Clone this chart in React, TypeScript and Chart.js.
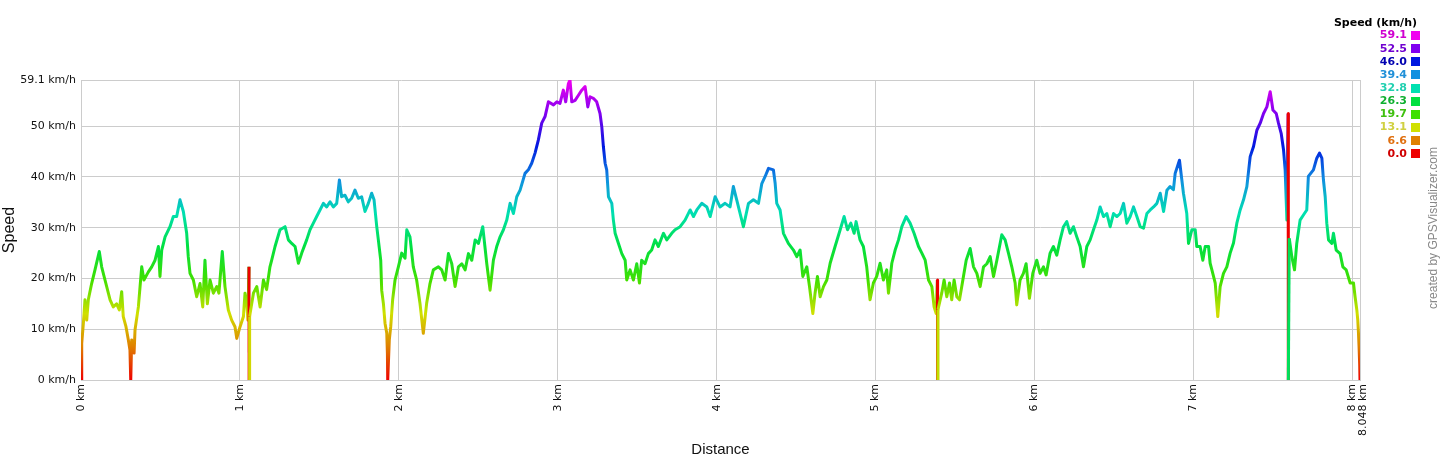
import React, { useEffect, useRef } from 'react';
import { Chart, registerables } from 'chart.js';

Chart.register(...registerables);

// Distance along the track (km)
const distanceKm = [
  0.003, 0.004, 0.005, 0.015, 0.025, 0.036, 0.046, 0.067, 0.088, 0.115,
  0.130, 0.151, 0.183, 0.203, 0.224, 0.241, 0.256, 0.266, 0.283, 0.298,
  0.308, 0.313, 0.319, 0.334, 0.340, 0.361, 0.382, 0.396, 0.424, 0.445,
  0.466, 0.487, 0.497, 0.508, 0.529, 0.560, 0.581, 0.602, 0.623, 0.644,
  0.665, 0.675, 0.686, 0.707, 0.728, 0.749, 0.766, 0.780, 0.795, 0.812,
  0.833, 0.854, 0.868, 0.889, 0.906, 0.927, 0.948, 0.969, 0.980, 1.001,
  1.022, 1.032, 1.044, 1.050, 1.057, 1.058, 1.061, 1.085, 1.106, 1.127,
  1.148, 1.168, 1.189, 1.200, 1.221, 1.252, 1.284, 1.305, 1.326, 1.347,
  1.368, 1.389, 1.420, 1.441, 1.462, 1.483, 1.504, 1.525, 1.546, 1.567,
  1.588, 1.609, 1.626, 1.640, 1.661, 1.682, 1.703, 1.724, 1.745, 1.766,
  1.787, 1.808, 1.829, 1.844, 1.861, 1.871, 1.886, 1.892, 1.903, 1.913,
  1.924, 1.928, 1.930, 1.940, 1.949, 1.961, 1.976, 1.997, 2.018, 2.039,
  2.050, 2.070, 2.091, 2.112, 2.133, 2.154, 2.175, 2.196, 2.217, 2.249,
  2.270, 2.291, 2.312, 2.333, 2.354, 2.375, 2.396, 2.417, 2.438, 2.459,
  2.480, 2.501, 2.528, 2.553, 2.574, 2.595, 2.616, 2.637, 2.658, 2.679,
  2.700, 2.721, 2.742, 2.763, 2.794, 2.815, 2.836, 2.857, 2.878, 2.899,
  2.920, 2.941, 2.973, 2.994, 3.014, 3.035, 3.050, 3.067, 3.077, 3.088,
  3.109, 3.130, 3.151, 3.172, 3.189, 3.203, 3.224, 3.245, 3.266, 3.277,
  3.287, 3.298, 3.308, 3.319, 3.340, 3.350, 3.361, 3.382, 3.403, 3.424,
  3.434, 3.455, 3.476, 3.497, 3.514, 3.528, 3.549, 3.570, 3.591, 3.612,
  3.633, 3.665, 3.686, 3.717, 3.738, 3.770, 3.801, 3.833, 3.854, 3.875,
  3.906, 3.938, 3.959, 3.990, 4.021, 4.053, 4.084, 4.105, 4.126, 4.168,
  4.200, 4.231, 4.263, 4.284, 4.305, 4.326, 4.357, 4.368, 4.378, 4.399,
  4.420, 4.451, 4.483, 4.504, 4.525, 4.542, 4.567, 4.584, 4.605, 4.619,
  4.634, 4.651, 4.672, 4.693, 4.714, 4.745, 4.777, 4.802, 4.823, 4.844,
  4.865, 4.877, 4.902, 4.923, 4.944, 4.965, 4.986, 5.007, 5.028, 5.049,
  5.070, 5.081, 5.102, 5.123, 5.144, 5.165, 5.192, 5.217, 5.242, 5.270,
  5.291, 5.312, 5.333, 5.354, 5.368, 5.381, 5.389, 5.390, 5.392, 5.416,
  5.431, 5.448, 5.465, 5.479, 5.494, 5.511, 5.528, 5.549, 5.570, 5.595,
  5.616, 5.637, 5.658, 5.679, 5.700, 5.721, 5.742, 5.763, 5.794, 5.815,
  5.836, 5.857, 5.878, 5.888, 5.909, 5.930, 5.947, 5.968, 5.989, 6.014,
  6.035, 6.056, 6.073, 6.098, 6.119, 6.140, 6.161, 6.182, 6.203, 6.224,
  6.245, 6.266, 6.287, 6.308, 6.329, 6.350, 6.371, 6.392, 6.413, 6.434,
  6.455, 6.476, 6.497, 6.518, 6.539, 6.560, 6.581, 6.602, 6.623, 6.644,
  6.665, 6.686, 6.707, 6.728, 6.749, 6.770, 6.791, 6.812, 6.833, 6.853,
  6.874, 6.885, 6.912, 6.927, 6.937, 6.958, 6.969, 6.990, 7.011, 7.021,
  7.042, 7.059, 7.074, 7.095, 7.105, 7.116, 7.137, 7.153, 7.168, 7.189,
  7.210, 7.231, 7.252, 7.273, 7.294, 7.315, 7.336, 7.357, 7.378, 7.399,
  7.420, 7.441, 7.462, 7.483, 7.500, 7.521, 7.535, 7.552, 7.567, 7.577,
  7.588, 7.596, 7.597, 7.603, 7.619, 7.636, 7.650, 7.671, 7.692, 7.713,
  7.723, 7.755, 7.776, 7.793, 7.808, 7.818, 7.829, 7.839, 7.850, 7.871,
  7.881, 7.898, 7.923, 7.940, 7.961, 7.986, 8.007, 8.017, 8.028, 8.034,
  8.038, 8.042, 8.046, 8.048,
];

// Speed at each point (km/h)
const speedKmh = [
  0, 3.5, 7.2, 11.2, 15.8, 11.8, 15.8, 19.0, 21.7, 25.3,
  22.3, 19.7, 15.8, 14.4, 15.0, 13.8, 17.4, 12.5, 10.5, 7.9,
  5.9, 0, 7.9, 5.3, 9.9, 14.4, 22.3, 19.7, 21.3, 22.3,
  23.6, 26.3, 20.4, 25.6, 28.2, 30.2, 32.2, 32.2, 35.5, 33.2,
  28.9, 24.3, 21.0, 19.7, 16.4, 19.0, 14.4, 23.6, 15.0, 19.7,
  17.1, 18.4, 17.1, 25.3, 18.4, 13.8, 11.8, 10.5, 8.2, 10.5,
  12.5, 17.1, 15.0, 11.8, 22.3, 0, 12.5, 17.1, 18.4, 14.4,
  19.7, 17.8, 22.3, 23.6, 26.3, 29.6, 30.2, 27.6, 26.9, 26.3,
  23.0, 25.0, 27.6, 29.6, 30.9, 32.2, 33.5, 34.8, 34.1, 35.1,
  34.1, 34.8, 39.4, 36.1, 36.4, 35.1, 35.8, 37.4, 35.8, 36.1,
  33.2, 34.8, 36.8, 35.5, 30.2, 27.6, 23.6, 17.7, 15.0, 11.2,
  9.2, 5.3, 0, 7.9, 10.5, 15.8, 19.7, 22.3, 25.0, 24.0,
  29.6, 28.2, 22.3, 19.7, 15.1, 9.2, 15.1, 19.0, 21.7, 22.3,
  21.7, 19.7, 24.9, 22.9, 18.4, 22.3, 22.9, 21.7, 24.9, 23.6,
  27.6, 26.9, 30.2, 23.0, 17.7, 23.6, 26.3, 28.2, 29.6, 31.5,
  34.8, 32.8, 36.1, 37.4, 40.7, 41.4, 42.7, 44.7, 47.3, 50.6,
  51.9, 54.8, 54.2, 54.8, 54.5, 57.1, 54.8, 58.4, 59.1, 54.8,
  55.1, 56.1, 57.1, 57.8, 53.8, 55.8, 55.5, 54.8, 52.5, 49.9,
  46.0, 42.7, 41.4, 36.1, 34.8, 31.5, 28.9, 26.9, 24.9, 23.6,
  19.7, 21.7, 19.7, 22.9, 19.1, 23.6, 22.9, 24.9, 25.6, 27.6,
  26.3, 28.9, 27.6, 28.9, 29.6, 30.2, 31.5, 33.5, 32.2, 33.5,
  34.8, 34.1, 32.2, 36.1, 34.1, 34.8, 34.1, 38.1, 35.5, 30.2,
  34.8, 35.5, 34.8, 38.7, 40.1, 41.7, 41.4, 38.7, 34.8, 33.5,
  28.9, 26.9, 25.6, 24.3, 25.6, 20.4, 22.3, 18.4, 13.1, 17.1,
  20.4, 16.4, 18.4, 19.7, 23.0, 26.3, 29.6, 32.2, 29.6, 30.9,
  28.9, 31.2, 27.6, 26.3, 22.3, 15.8, 19.1, 20.4, 23.0, 19.7,
  21.7, 17.1, 23.0, 25.6, 27.6, 30.2, 32.2, 30.9, 28.9, 26.3,
  25.0, 23.6, 19.7, 18.4, 14.4, 13.1, 19.7, 0, 13.8, 17.1,
  19.7, 16.4, 19.1, 15.8, 19.7, 16.4, 15.8, 19.7, 23.6, 25.9,
  22.3, 21.0, 18.4, 22.3, 22.9, 24.3, 20.4, 23.6, 28.6, 27.6,
  25.0, 22.3, 19.1, 14.8, 19.7, 21.0, 22.9, 16.1, 21.0, 23.6,
  21.0, 22.3, 20.7, 25.0, 26.3, 24.6, 27.6, 30.2, 31.2, 28.9,
  30.2, 28.2, 26.3, 22.3, 26.3, 27.6, 29.6, 31.5, 34.1, 32.2,
  32.8, 30.2, 32.8, 32.2, 32.8, 34.8, 30.9, 32.2, 34.1, 32.2,
  30.2, 29.9, 32.8, 33.5, 34.1, 34.8, 36.8, 33.2, 37.4, 38.1,
  37.5, 40.7, 43.3, 39.4, 36.8, 32.8, 26.9, 29.6, 29.6, 26.3,
  26.3, 23.6, 26.3, 26.3, 23.0, 21.7, 19.1, 12.5, 18.4, 21.0,
  22.3, 25.0, 27.0, 30.9, 33.5, 35.5, 38.1, 44.0, 46.0, 49.2,
  50.6, 52.5, 53.8, 56.8, 53.2, 52.5, 50.6, 48.6, 45.3, 41.4,
  31.5, 52.5, 0, 27.9, 24.3, 21.7, 26.9, 31.5, 32.5, 33.5,
  40.1, 41.4, 43.7, 44.7, 43.7, 39.4, 36.1, 30.9, 27.6, 26.9,
  28.9, 25.6, 24.9, 22.3, 21.7, 19.1, 19.1, 16.4, 13.8, 11.8,
  9.5, 6.6, 3.0, 0,
];

const xTickValues = [0, 1, 2, 3, 4, 5, 6, 7, 8, 8.048];
const yTickValues = [0, 10, 20, 30, 40, 50, 59.1];
const X_MAX = 8.048;
const Y_MAX = 59.1;

const legendTitle = 'Speed (km/h)';
const legendValues = [59.1, 52.5, 46.0, 39.4, 32.8, 26.3, 19.7, 13.1, 6.6, 0.0];
const legendColors = ['#f000f0', '#8000f0', '#0018e0', '#1090e0', '#00e0b0', '#00e040', '#40e000', '#d0e000', '#e08000', '#ee0000'];
const legendTextColors = ['#d000d0', '#7000d0', '#0000b0', '#2090d8', '#20d0b0', '#10b030', '#40c010', '#d0d040', '#e07010', '#d00000'];

const creditText = 'created by GPSVisualizer.com';
const xTitle = 'Distance';
const yTitle = 'Speed';

const TICK_FONT = "'DejaVu Sans', sans-serif";

function hexToRgb(h: string) {
  const n = parseInt(h.slice(1), 16);
  return [(n >> 16) & 255, (n >> 8) & 255, n & 255];
}

function speedColor(v: number): string {
  const vals = legendValues.slice().reverse();
  const cols = legendColors.slice().reverse();
  if (v <= vals[0]) return cols[0];
  for (let i = 1; i < vals.length; i++) {
    if (v <= vals[i]) {
      const t = (v - vals[i - 1]) / (vals[i] - vals[i - 1]);
      const a = hexToRgb(cols[i - 1]);
      const b = hexToRgb(cols[i]);
      const c = a.map((av, k) => Math.round(av + (b[k] - av) * t));
      return `rgb(${c[0]},${c[1]},${c[2]})`;
    }
  }
  return cols[cols.length - 1];
}

function getGradient(chart: any): any {
  const ys = chart.scales && chart.scales.y;
  if (!chart.chartArea || !ys) return legendColors[5];
  const y0 = ys.getPixelForValue(0);
  const y1 = ys.getPixelForValue(Y_MAX);
  const key = y0 + ':' + y1;
  if (!chart.$speedGrad || chart.$speedGrad.key !== key) {
    const g = chart.ctx.createLinearGradient(0, y0, 0, y1);
    const vals = legendValues.slice().reverse();
    const cols = legendColors.slice().reverse();
    vals.forEach((v, i) => g.addColorStop(Math.min(1, v / Y_MAX), cols[i]));
    chart.$speedGrad = { key, g };
  }
  return chart.$speedGrad.g;
}

// Near-vertical jumps (GPS glitches) are drawn in the solid colour of their end point
function segmentColor(ctx: any) {
  const a = ctx.p0.parsed;
  const b = ctx.p1.parsed;
  if (Math.abs(b.y - a.y) > 10 && Math.abs(b.x - a.x) < 0.0065) {
    return speedColor(b.y);
  }
  return getGradient(ctx.chart);
}

const decorPlugin = {
  id: 'decor',
  afterDraw(chart: any) {
    const ctx = chart.ctx;
    const area = chart.chartArea;
    const xs = chart.scales.x;
    ctx.save();
    ctx.fillStyle = '#111';
    ctx.font = "15px 'Liberation Sans', Arial, sans-serif";
    ctx.textAlign = 'center';
    ctx.textBaseline = 'middle';
    ctx.fillText(xTitle, (area.left + area.right) / 2, 450);
    ctx.save();
    ctx.font = "16px 'Liberation Sans', Arial, sans-serif";
    ctx.translate(10, (area.top + area.bottom) / 2);
    ctx.rotate(-Math.PI / 2);
    ctx.fillText(yTitle, 0, 0);
    ctx.restore();

    // last distance label, set slightly right of its grid line
    const last = xTickValues[xTickValues.length - 1];
    ctx.save();
    ctx.font = '11px ' + TICK_FONT;
    ctx.fillStyle = '#111';
    ctx.textAlign = 'right';
    ctx.textBaseline = 'middle';
    ctx.translate(xs.getPixelForValue(last) + 3.5, area.bottom + 4);
    ctx.rotate(-Math.PI / 2);
    ctx.fillText(last + ' km', 0, 0);
    ctx.restore();

    ctx.font = "bold 11px 'DejaVu Sans', sans-serif";
    ctx.textAlign = 'right';
    ctx.fillStyle = '#000';
    ctx.fillText(legendTitle, 1417, 23);
    legendValues.forEach((v, i) => {
      const cy = 35.5 + i * 13.15;
      ctx.fillStyle = legendTextColors[i];
      ctx.fillText(v.toFixed(1), 1407, cy);
      ctx.fillStyle = legendColors[i];
      ctx.fillRect(1411, Math.round(cy - 4.5), 9, 9);
    });

    ctx.font = "12px 'Liberation Sans', Arial, sans-serif";
    ctx.fillStyle = '#888';
    ctx.textAlign = 'center';
    ctx.translate(1434, 228);
    ctx.rotate(-Math.PI / 2);
    ctx.fillText(creditText, 0, 0);
    ctx.restore();
  },
};

export default function App() {
  const ref = useRef<HTMLCanvasElement>(null);
  useEffect(() => {
    const canvas = ref.current;
    if (!canvas) return;
    const points = distanceKm.map((d, i) => ({ x: d, y: speedKmh[i] }));
    const lastTick = xTickValues[xTickValues.length - 1];
    const chart = new Chart(canvas, {
      type: 'line',
      data: {
        datasets: [
          {
            data: points,
            borderWidth: 3,
            borderColor: '#00e040',
            pointRadius: 0,
            tension: 0,
            borderJoinStyle: 'round',
            segment: { borderColor: segmentColor },
          } as any,
        ],
      },
      options: {
        responsive: false,
        animation: false,
        layout: { padding: { top: 80, right: 80, left: 0, bottom: 0 } },
        plugins: { legend: { display: false }, tooltip: { enabled: false } },
        elements: { point: { radius: 0 } },
        scales: {
          x: {
            type: 'linear',
            min: 0,
            max: X_MAX,
            afterBuildTicks: (s: any) => {
              s.ticks = xTickValues.map((v) => ({ value: v }));
            },
            afterFit: (s: any) => {
              s.height = 80;
            },
            grid: { color: '#cccccc', drawTicks: false },
            border: { color: '#cccccc' },
            ticks: {
              autoSkip: false,
              minRotation: 90,
              maxRotation: 90,
              padding: 4,
              color: '#111',
              font: { family: TICK_FONT, size: 11 },
              callback: (v: any) => (v === lastTick ? '' : v + ' km'),
            },
          },
          y: {
            type: 'linear',
            min: 0,
            max: Y_MAX,
            afterBuildTicks: (s: any) => {
              s.ticks = yTickValues.map((v) => ({ value: v }));
            },
            afterFit: (s: any) => {
              s.width = 81;
            },
            grid: { color: '#cccccc', drawTicks: false },
            border: { color: '#cccccc' },
            ticks: {
              padding: 5,
              color: '#111',
              font: { family: TICK_FONT, size: 11 },
              callback: (v: any) => v + ' km/h',
            },
          },
        },
      } as any,
      plugins: [decorPlugin],
    });
    return () => chart.destroy();
  }, []);
  return (
    <div style={{ position: 'fixed', left: 0, top: 0, width: 1440, height: 460, background: '#fff' }}>
      <canvas ref={ref} width={1440} height={460} style={{ display: 'block', width: 1440, height: 460 }} />
    </div>
  );
}
